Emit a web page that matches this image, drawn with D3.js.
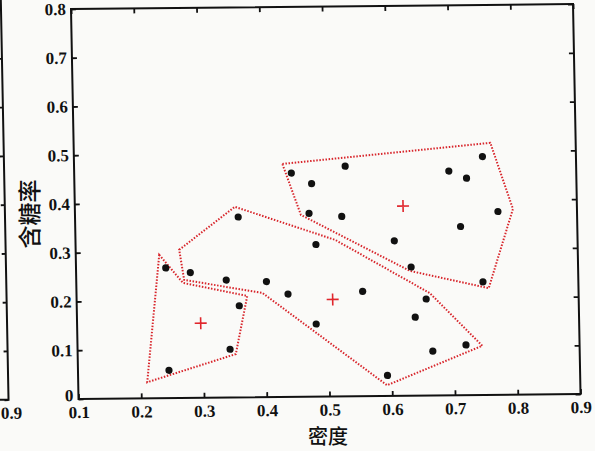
<!DOCTYPE html>
<html>
<head>
<meta charset="utf-8">
<script src="https://cdn.jsdelivr.net/npm/d3@7"></script>
<style>
  html, body { margin: 0; padding: 0; background: #fafaf8; }
  svg { display: block; }
  .num { font-family: "Liberation Serif", "Times New Roman", serif; font-weight: bold; font-size: 17px; fill: #111; }
  .cjk { font-family: "Noto Sans CJK SC", sans-serif; font-weight: 500; fill: #111; }
</style>
</head>
<body>
<div id="chart"></div>
<script>
// samples (density, sugar content)
var density = [0.697, 0.774, 0.634, 0.608, 0.556, 0.403, 0.481, 0.437, 0.666, 0.243,
               0.245, 0.343, 0.639, 0.657, 0.360, 0.593, 0.719, 0.359, 0.339, 0.282,
               0.748, 0.714, 0.483, 0.478, 0.525, 0.751, 0.532, 0.473, 0.725, 0.446];
var sugar   = [0.460, 0.376, 0.264, 0.318, 0.215, 0.237, 0.149, 0.211, 0.091, 0.267,
               0.057, 0.099, 0.161, 0.198, 0.370, 0.042, 0.103, 0.188, 0.241, 0.257,
               0.232, 0.346, 0.312, 0.437, 0.369, 0.489, 0.472, 0.376, 0.445, 0.459];

// cluster centres (red +)
var centerX = [0.297, 0.508, 0.623];
var centerY = [0.153, 0.199, 0.389];

// dotted outlines around each cluster
var hullA = [[0.233, 0.294], [0.270, 0.236], [0.372, 0.208], [0.352, 0.089], [0.210, 0.033]];
var hullB = [[0.265, 0.304], [0.355, 0.391], [0.514, 0.321], [0.663, 0.210], [0.745, 0.101],
             [0.592, 0.022], [0.396, 0.214], [0.272, 0.242]];
var hullC = [[0.432, 0.478], [0.764, 0.517], [0.798, 0.381], [0.757, 0.219], [0.632, 0.256],
             [0.460, 0.373]];

var xTicks = [0.1, 0.2, 0.3, 0.4, 0.5, 0.6, 0.7, 0.8, 0.9];
var yTicks = [0, 0.1, 0.2, 0.3, 0.4, 0.5, 0.6, 0.7, 0.8];

var W = 502, H = 390;

var svg = d3.select("#chart").append("svg")
    .attr("width", 595)
    .attr("height", 451);

svg.append("rect")
    .attr("width", 595)
    .attr("height", 451)
    .attr("fill", "#fafaf8");

// the scan is a little tilted, so the plot lives in a slightly sheared group
var g = svg.append("g")
    .attr("transform", "matrix(1,-0.0099,0.0193,1,71,9)");

var x = d3.scaleLinear().domain([0.1, 0.9]).range([0, W]);
var y = d3.scaleLinear().domain([0, 0.8]).range([H, 0]);

var fmtY = function(d) { return d === 0 ? "0" : d3.format(".1f")(d); };

function styleAxis(sel) {
    sel.select(".domain").remove();
    sel.selectAll(".tick line").attr("stroke", "#111").attr("stroke-width", 1.8);
    sel.selectAll(".tick text").attr("class", "num").attr("fill", "#111");
}

g.append("g")
    .attr("transform", "translate(0," + H + ")")
    .call(d3.axisBottom(x).tickValues(xTicks).tickSize(-5).tickPadding(7).tickFormat(d3.format(".1f")))
    .call(styleAxis);

var yAxis = g.append("g")
    .call(d3.axisLeft(y).tickValues(yTicks).tickSize(-5).tickPadding(5).tickFormat(fmtY))
    .call(styleAxis);
// lift the "0" a touch so it sits on top of "0.1" like the original
yAxis.selectAll(".tick text").filter(function(d) { return d === 0; }).attr("dy", "0.1em");

g.append("g")
    .call(d3.axisTop(x).tickValues(xTicks).tickSize(-5).tickFormat(""))
    .call(styleAxis);

g.append("g")
    .attr("transform", "translate(" + W + ",0)")
    .call(d3.axisRight(y).tickValues(yTicks).tickSize(-5).tickFormat(""))
    .call(styleAxis);

g.append("rect")
    .attr("width", W)
    .attr("height", H)
    .attr("fill", "none")
    .attr("stroke", "#111")
    .attr("stroke-width", 2);

// edge of the neighbouring subplot on the left
var ghost = g.append("g").attr("transform", "translate(-70,0)");
ghost.append("g")
    .call(d3.axisRight(y).tickValues(yTicks).tickSize(-4).tickFormat(""))
    .call(styleAxis);
ghost.append("path")
    .attr("d", "M-40," + H + "H0V-20")
    .attr("fill", "none")
    .attr("stroke", "#111")
    .attr("stroke-width", 2);
ghost.append("text")
    .attr("class", "num")
    .attr("x", -8)
    .attr("y", H + 7)
    .attr("dy", "0.71em")
    .attr("text-anchor", "start")
    .text("0.9");

var line = d3.line()
    .x(function(d) { return x(d[0]); })
    .y(function(d) { return y(d[1]); })
    .curve(d3.curveLinearClosed);

g.selectAll("path.hull")
    .data([hullA, hullB, hullC])
    .enter().append("path")
    .attr("class", "hull")
    .attr("d", line)
    .attr("fill", "none")
    .attr("stroke", "#d8262c")
    .attr("stroke-width", 2)
    .attr("stroke-dasharray", "1.5,1.6");

g.selectAll("circle.pt")
    .data(density)
    .enter().append("circle")
    .attr("class", "pt")
    .attr("cx", function(d) { return x(d); })
    .attr("cy", function(d, i) { return y(sugar[i]); })
    .attr("r", 3.6)
    .attr("fill", "#111");

g.selectAll("path.center")
    .data(centerX)
    .enter().append("path")
    .attr("class", "center")
    .attr("d", function(d, i) {
        var cx = x(d), cy = y(centerY[i]);
        return "M" + (cx - 6) + "," + cy + "H" + (cx + 6) + "M" + cx + "," + (cy - 6) + "V" + (cy + 6);
    })
    .attr("stroke", "#e0262c")
    .attr("stroke-width", 1.6);

// axis titles
svg.append("text")
    .attr("class", "cjk")
    .attr("x", 328)
    .attr("y", 444)
    .attr("text-anchor", "middle")
    .style("font-size", "20px")
    .text("密度");

svg.append("text")
    .attr("class", "cjk")
    .attr("transform", "translate(28,214) rotate(-90)")
    .attr("text-anchor", "middle")
    .attr("dominant-baseline", "central")
    .style("font-size", "23px")
    .text("含糖率");
</script>
</body>
</html>
